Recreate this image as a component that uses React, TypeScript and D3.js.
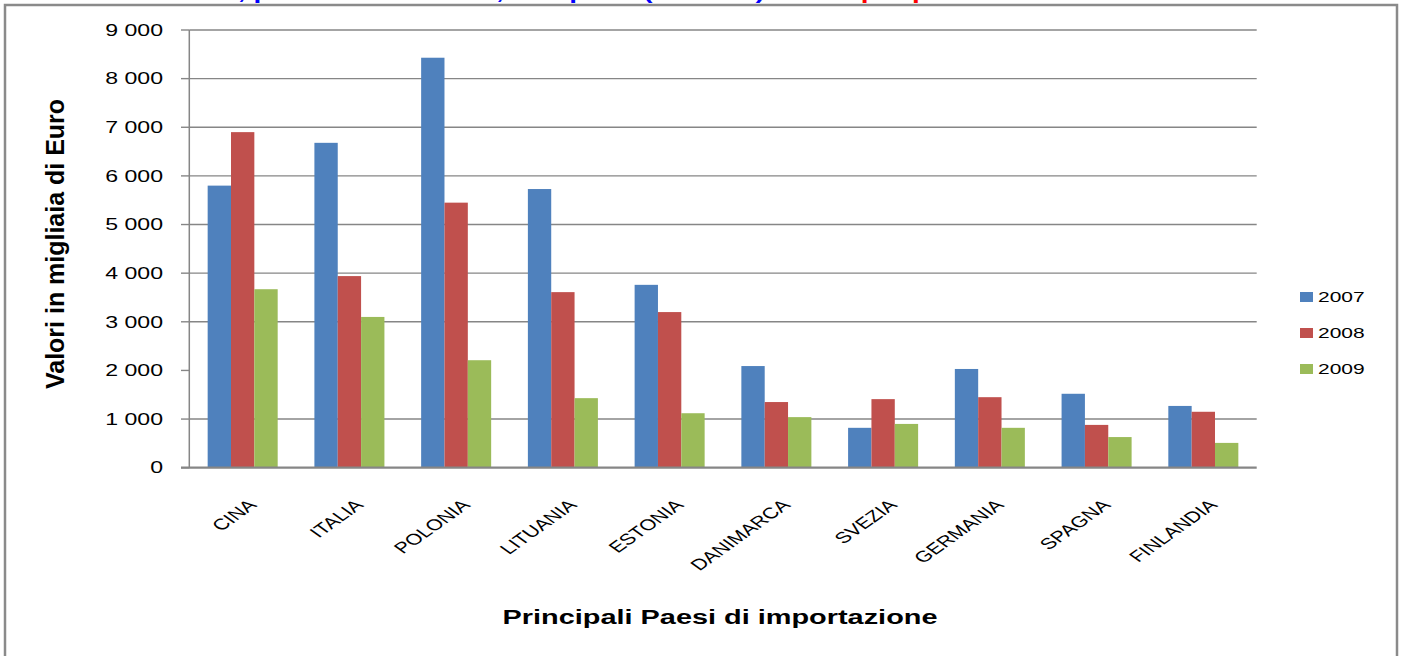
import React from "react";
import * as d3 from "d3";

const categories = ["CINA", "ITALIA", "POLONIA", "LITUANIA", "ESTONIA", "DANIMARCA", "SVEZIA", "GERMANIA", "SPAGNA", "FINLANDIA"];
const seriesNames = ["2007", "2008", "2009"];
const values2007 = [5800, 6680, 8430, 5730, 3760, 2090, 820, 2030, 1520, 1270];
const values2008 = [6900, 3940, 5450, 3610, 3200, 1350, 1410, 1450, 880, 1150];
const values2009 = [3670, 3100, 2210, 1430, 1120, 1040, 900, 820, 630, 510];
const yTicks = [0, 1000, 2000, 3000, 4000, 5000, 6000, 7000, 8000, 9000];
const gridValues = [1000, 3000, 4000, 5000, 6000, 7000, 8000, 9000];
const colors = ["#4F81BD", "#C0504D", "#9BBB59"];
const yTitle = "Valori in migliaia di Euro";
const xTitle = "Principali Paesi di importazione";
const titleBlue = "Totale merci, per settore e anno, dati prov. (2007-09) ";
const titleRed = "Totale per paese";

const W = 1402;
const H = 656;
const plotLeft = 189.3;
const plotRight = 1256.7;
const yZero = 467.7;
const yMax = 30;
const SX = 1.4;

export default function App() {
  const seriesValues = [values2007, values2008, values2009];
  const x0 = d3.scaleBand<string>().domain(categories).range([plotLeft, plotRight]).paddingInner(0.344).paddingOuter(0.172);
  const x1 = d3.scaleBand<string>().domain(seriesNames).range([0, x0.bandwidth()]).padding(0);
  const y = d3.scaleLinear().domain([0, 9000]).range([yZero, yMax]);
  const fmt = (v: number) => (v === 0 ? "0" : `${v / 1000} 000`);
  const grid = "#868686";
  const font = "Arial, 'Liberation Sans', sans-serif";

  return (
    <div style={{ position: "absolute", left: 0, top: 0 }}>
      <svg width={W} height={H} style={{ display: "block", background: "#fff" }}>
        {/* title, mostly cropped above the frame (only descenders peek in) */}
        <text
          transform={`translate(75,-1.5) scale(${SX},1)`}
          fontFamily={font}
          fontWeight="bold"
          fontSize={20}
          fill="#0000FF"
          style={{ whiteSpace: "pre" }}
        >
          {titleBlue}
          <tspan fill="#FF0000">{titleRed}</tspan>
        </text>
        {/* outer frame */}
        <rect x={5} y={5} width={1392} height={H + 10} fill="none" stroke="#8a8a8a" strokeWidth={2.5} />

        {/* gridlines */}
        {gridValues.map((v) => (
          <line key={"g" + v} x1={plotLeft} x2={plotRight} y1={y(v)} y2={y(v)} stroke={grid} strokeWidth={1.4} />
        ))}
        {/* tick marks */}
        {yTicks.map((v) => (
          <line key={"t" + v} x1={181} x2={plotLeft} y1={y(v)} y2={y(v)} stroke={grid} strokeWidth={1.4} />
        ))}
        {/* tick labels */}
        {yTicks.map((v) => (
          <text
            key={"l" + v}
            transform={`translate(163,${y(v)}) scale(${SX},1)`}
            textAnchor="end"
            dominantBaseline="central"
            fontFamily={font}
            fontSize={16.5}
            fill="#000"
          >
            {fmt(v)}
          </text>
        ))}

        {/* bars */}
        {categories.map((c, i) => (
          <g key={c} transform={`translate(${x0(c)},0)`}>
            {seriesNames.map((s, j) => (
              <rect
                key={s}
                x={x1(s)}
                y={y(seriesValues[j][i])}
                width={x1.bandwidth()}
                height={yZero - y(seriesValues[j][i])}
                fill={colors[j]}
              />
            ))}
          </g>
        ))}

        {/* axes */}
        <line x1={plotLeft} x2={plotLeft} y1={yMax} y2={yZero} stroke={grid} strokeWidth={1.5} />
        <line x1={181} x2={plotRight} y1={yZero} y2={yZero} stroke={grid} strokeWidth={2.2} />

        {/* category labels */}
        {categories.map((c) => {
          const cx = (x0(c) as number) + x0.bandwidth() / 2;
          return (
            <text
              key={"c" + c}
              transform={`translate(${cx + 4},498) scale(${SX},1) rotate(-45)`}
              textAnchor="end"
              dy="0.72em"
              fontFamily={font}
              fontSize={15.5}
              fill="#000"
            >
              {c}
            </text>
          );
        })}

        {/* axis titles */}
        <text
          transform={`translate(64,244) scale(${SX},1) rotate(-90)`}
          textAnchor="middle"
          fontFamily={font}
          fontWeight="bold"
          fontSize={19}
          textLength={290}
          lengthAdjust="spacingAndGlyphs"
          fill="#000"
        >
          {yTitle}
        </text>
        <text
          x={720}
          y={624}
          textAnchor="middle"
          fontFamily={font}
          fontWeight="bold"
          fontSize={20}
          textLength={435}
          lengthAdjust="spacingAndGlyphs"
          fill="#000"
        >
          {xTitle}
        </text>

        {/* legend */}
        {seriesNames.map((s, j) => {
          const ly = 297 + j * 36;
          return (
            <g key={"lg" + s}>
              <rect x={1300} y={ly - 5} width={13} height={10} fill={colors[j]} />
              <text
                transform={`translate(1318,${ly}) scale(${SX},1)`}
                dominantBaseline="central"
                fontFamily={font}
                fontSize={15}
                fill="#000"
              >
                {s}
              </text>
            </g>
          );
        })}
      </svg>
    </div>
  );
}
